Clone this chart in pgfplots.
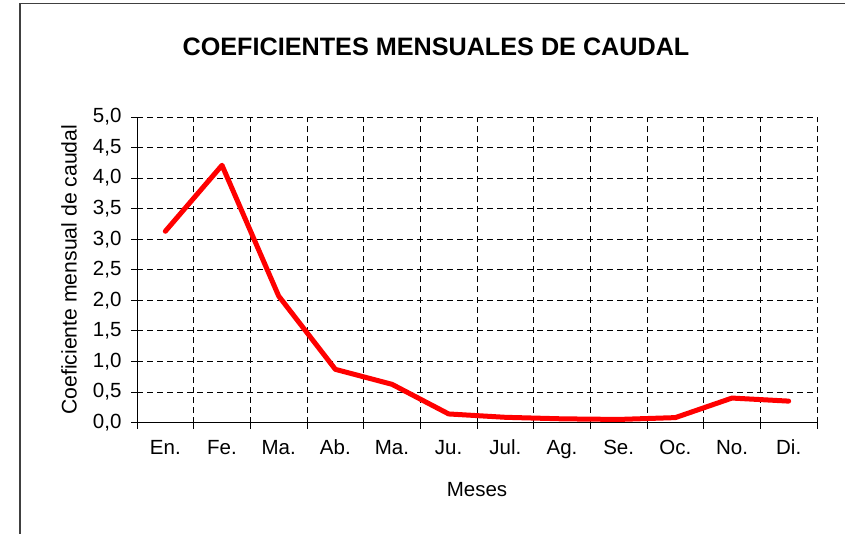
\documentclass[border=0pt]{standalone}
\usepackage{fontspec}
\setmainfont{Liberation Sans}
\usepackage{pgfplots}
\pgfplotsset{compat=1.18}
\begin{document}
\begin{tikzpicture}
\useasboundingbox (0pt,0pt) rectangle (845pt,533pt);
\draw[line width=1.6pt, black!75] (20pt,-2pt) -- (20pt,529.5pt) -- (847pt,529.5pt);
\node[font=\fontsize{25.2}{29}\selectfont\bfseries] at (436pt,486pt) {COEFICIENTES MENSUALES DE CAUDAL};
\begin{axis}[
  at={(137pt,110.5pt)}, anchor=south west,
  scale only axis, width=680pt, height=305.5pt,
  xmin=-0.5, xmax=11.5, ymin=0, ymax=5,
  axis lines=left, axis line style={-, line width=0.9pt, black},
  tick align=outside,
  xtick={0,...,11},
  xticklabels={En.,Fe.,Ma.,Ab.,Ma.,Ju.,Jul.,Ag.,Se.,Oc.,No.,Di.},
  major x tick style={draw=none},
  minor xtick={-0.5,0.5,...,11.5},
  minor x tick style={black, line width=0.9pt},
  minor tick length=6pt,
  xminorgrids=true,
  ytick={0,0.5,...,5},
  major tick length=6pt,
  y tick style={black, line width=0.9pt},
  ymajorgrids=true,
  grid style={black, line width=0.8pt, dash pattern=on 6pt off 4pt},
  minor grid style={black, line width=0.8pt, dash pattern=on 6pt off 4pt},
  /pgf/number format/assume math mode=true,
  yticklabel={\pgfmathprintnumber[fixed,fixed zerofill,precision=1,use comma]{\tick}},
  ticklabel style={font=\fontsize{20.5}{24}\selectfont},
  yticklabel style={xshift=-6pt},
  xticklabel style={yshift=-8pt},
  xlabel={Meses},
  ylabel={Coeficiente mensual de caudal},
  xlabel style={font=\fontsize{20.5}{24}\selectfont, at={(axis description cs:0.5,-0.221)}, anchor=center},
  ylabel style={font=\fontsize{21.2}{24}\selectfont, at={(axis description cs:-0.1,0.5)}, anchor=center},
  clip=false,
]
\addplot[red, line width=5pt, line join=round, line cap=round] coordinates {
(0,3.13) (1,4.21) (2,2.07) (3,0.87) (4,0.625) (5,0.14) (6,0.085) (7,0.06) (8,0.05) (9,0.08) (10,0.40) (11,0.35)
};
\end{axis}
\end{tikzpicture}
\end{document}
